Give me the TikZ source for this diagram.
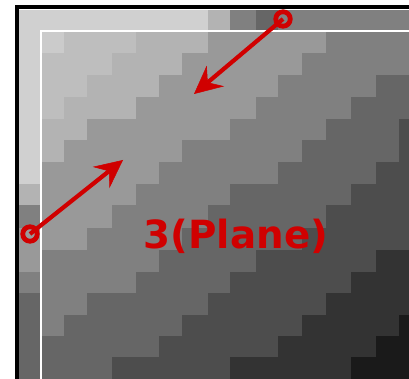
\documentclass[tikz,border=0pt]{standalone}
\usepackage{fontspec}
\newfontfamily\dvs{DejaVu Sans}
\usetikzlibrary{arrows.meta}
\definecolor{cA}{HTML}{D0D0D0}
\definecolor{cB}{HTML}{CBCBCB}
\definecolor{cC}{HTML}{BEBEBE}
\definecolor{cD}{HTML}{B3B3B3}
\definecolor{cE}{HTML}{999999}
\definecolor{cF}{HTML}{808080}
\definecolor{cG}{HTML}{666666}
\definecolor{cH}{HTML}{4D4D4D}
\definecolor{cI}{HTML}{333333}
\definecolor{cJ}{HTML}{1A1A1A}
\definecolor{annot}{HTML}{D00000}
\begin{document}
\begin{tikzpicture}[x=1pt,y=-1pt,
  ring/.style={circle, draw=annot, line width=4.8pt, minimum size=14.5pt, inner sep=0pt},
  arr/.style={draw=annot, line width=4.2pt, -{Stealth[length=28pt,width=27pt,inset=10pt,line width=0.5pt]}},
  lbl/.style={text=annot, inner sep=0pt, font=\dvs\bfseries\fontsize{38.8}{40}\selectfont}]
\useasboundingbox (0,0) rectangle (409,379);
\clip (0,0) rectangle (409,379);
\fill[white] (0,0) rectangle (409,379);
\def\xs{{19,41,64,87,112,136,159,182,208,230,256,278,302,326,351,376,399,423}}
\def\ys{{10,32,53,75,97,119,140,162,184,205,228,250,272,293,315,336,357,379,401}}
\foreach \row [count=\j from 0] in {
 {A,A,A,A,A,A,A,A,D,F,G,F,F,F,F,F,F},
 {A,B,C,C,C,D,D,D,E,E,E,E,E,F,F,F,F},
 {A,C,C,C,D,D,D,E,E,E,E,E,F,F,F,F,F},
 {A,C,C,D,D,D,E,E,E,E,E,F,F,F,F,G,G},
 {A,C,D,D,D,E,E,E,E,E,F,F,F,F,G,G,G},
 {A,D,D,E,E,E,E,E,E,F,F,F,F,G,G,G,H},
 {A,D,E,E,E,E,E,F,F,F,F,F,G,G,G,G,H},
 {A,E,E,E,E,E,F,F,F,F,F,G,G,G,G,H,H},
 {D,E,E,E,E,F,F,F,F,G,G,G,G,G,H,H,H},
 {F,E,E,E,F,F,F,F,G,G,G,G,G,H,H,H,H},
 {E,E,E,F,F,F,F,G,G,G,G,G,H,H,H,H,H},
 {E,F,F,F,F,F,G,G,G,G,H,H,H,H,H,I,I},
 {F,F,F,F,F,G,G,G,G,H,H,H,H,H,I,I,I},
 {G,F,F,G,G,G,G,G,H,H,H,H,H,I,I,I,I},
 {G,F,G,G,G,G,G,H,H,H,H,H,I,I,I,I,J},
 {G,G,G,G,G,G,H,H,H,H,H,I,I,I,I,J,J},
 {G,G,G,G,H,H,H,H,H,I,I,I,I,I,J,J,J}}{
  \foreach \c [count=\i from 0] in \row {
    \pgfmathsetmacro\xa{\xs[\i]}
    \pgfmathsetmacro\xb{\xs[\i+1]}
    \pgfmathsetmacro\ya{\ys[\j]}
    \pgfmathsetmacro\yb{\ys[\j+1]}
    \fill[c\c, draw=c\c, line width=0.4pt] (\xa,\ya) rectangle (\xb,\yb);
  }
}
% inner white frame
\draw[white, line width=1.6pt] (41,420) |- (440,31);
% outer black frame
\draw[black, line width=4pt] (17,420) |- (440,7);
% annotations
\node[ring] (c1) at (283,19) {};
\coordinate (t1) at (194,94);
\node[ring] (c2) at (30,234) {};
\coordinate (t2) at (123,160);
\draw[arr] (c1.center) -- (t1);
\draw[arr] (c2.center) -- (t2);
\node[lbl, anchor=base west] (title) at (143.5,248) {3(Plane)};
\end{tikzpicture}
\end{document}
